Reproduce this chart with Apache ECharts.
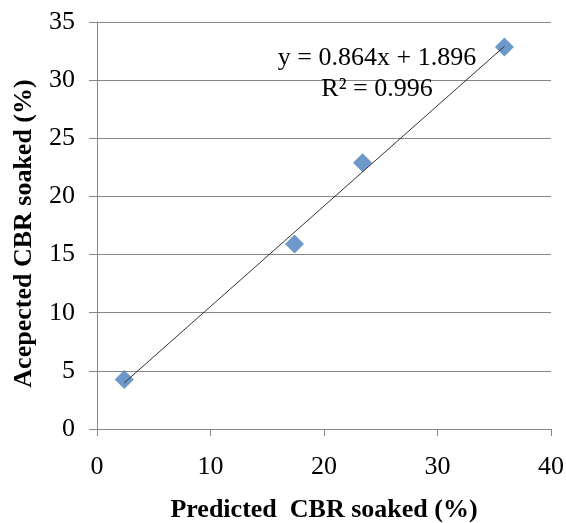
<!DOCTYPE html>
<html>
<head>
<meta charset="utf-8">
<script src="https://cdn.jsdelivr.net/npm/echarts@6/dist/echarts.min.js"></script>
<style>
html,body{margin:0;padding:0;background:#fff;}
#chart{width:566px;height:523px;}
</style>
</head>
<body>
<div id="chart"></div>
<script>
// Data
var predicted = [2.4, 17.4, 23.4, 35.9];
var accepted = [4.25, 15.9, 22.9, 32.85];
// Trendline endpoints (consistent with displayed equation)
var trendX = [2.4, 35.9];
var trendY = [3.97, 32.91];
var xTicks = [0, 10, 20, 30, 40];
var yTicks = [0, 5, 10, 15, 20, 25, 30, 35];
var equationText = 'y = 0.864x + 1.896';
var r2Text = 'R\u00B2 = 0.996';
var xTitle = 'Predicted  CBR soaked (%)';
var yTitle = 'Acepected CBR soaked (%)';

var FONT = '"Liberation Serif", "Times New Roman", serif';
var scatterData = predicted.map(function (x, i) { return [x, accepted[i]]; });
var trendData = trendX.map(function (x, i) { return [x, trendY[i]]; });

var chart = echarts.init(document.getElementById('chart'));
chart.setOption({
  animation: false,
  backgroundColor: '#ffffff',
  grid: { left: 97, right: 15, top: 22, bottom: 94, containLabel: false, outerBoundsMode: 'none' },
  xAxis: {
    type: 'value', min: xTicks[0], max: xTicks[xTicks.length - 1], interval: 10,
    name: xTitle, nameLocation: 'middle', nameGap: 68,
    nameTextStyle: { fontFamily: FONT, fontSize: 26, fontWeight: 'bold', color: '#000' },
    axisLine: { show: true, lineStyle: { color: '#868686', width: 1 } },
    axisTick: { show: true, inside: false, length: 7, lineStyle: { color: '#868686' } },
    axisLabel: { fontFamily: FONT, fontSize: 26, color: '#000', margin: 25 },
    splitLine: { show: false }
  },
  yAxis: {
    type: 'value', min: yTicks[0], max: yTicks[yTicks.length - 1], interval: 5,
    name: yTitle, nameLocation: 'middle', nameGap: 60, nameRotate: 90,
    nameTextStyle: { fontFamily: FONT, fontSize: 26, fontWeight: 'bold', color: '#000', padding: [0, 16, 0, 0] },
    axisLine: { show: true, lineStyle: { color: '#868686', width: 1 } },
    axisTick: { show: true, inside: false, length: 8, lineStyle: { color: '#868686' } },
    axisLabel: { fontFamily: FONT, fontSize: 26, color: '#000', margin: 22 },
    splitLine: { show: true, lineStyle: { color: '#868686', width: 1 } }
  },
  series: [
    {
      type: 'scatter', data: scatterData, symbol: 'diamond', symbolSize: 19,
      itemStyle: { color: '#4A7EBB' }, z: 2
    },
    {
      type: 'line', data: trendData, symbol: 'none', z: 3,
      lineStyle: { color: '#333333', width: 1 }
    }
  ],
  graphic: [
    { type: 'text', x: 377, y: 58, z: 10,
      style: { text: equationText, font: '26px ' + FONT, fill: '#000', align: 'center', verticalAlign: 'middle' } },
    { type: 'text', x: 377, y: 89, z: 10,
      style: { text: r2Text, font: '26px ' + FONT, fill: '#000', align: 'center', verticalAlign: 'middle' } }
  ]
});
</script>
</body>
</html>
